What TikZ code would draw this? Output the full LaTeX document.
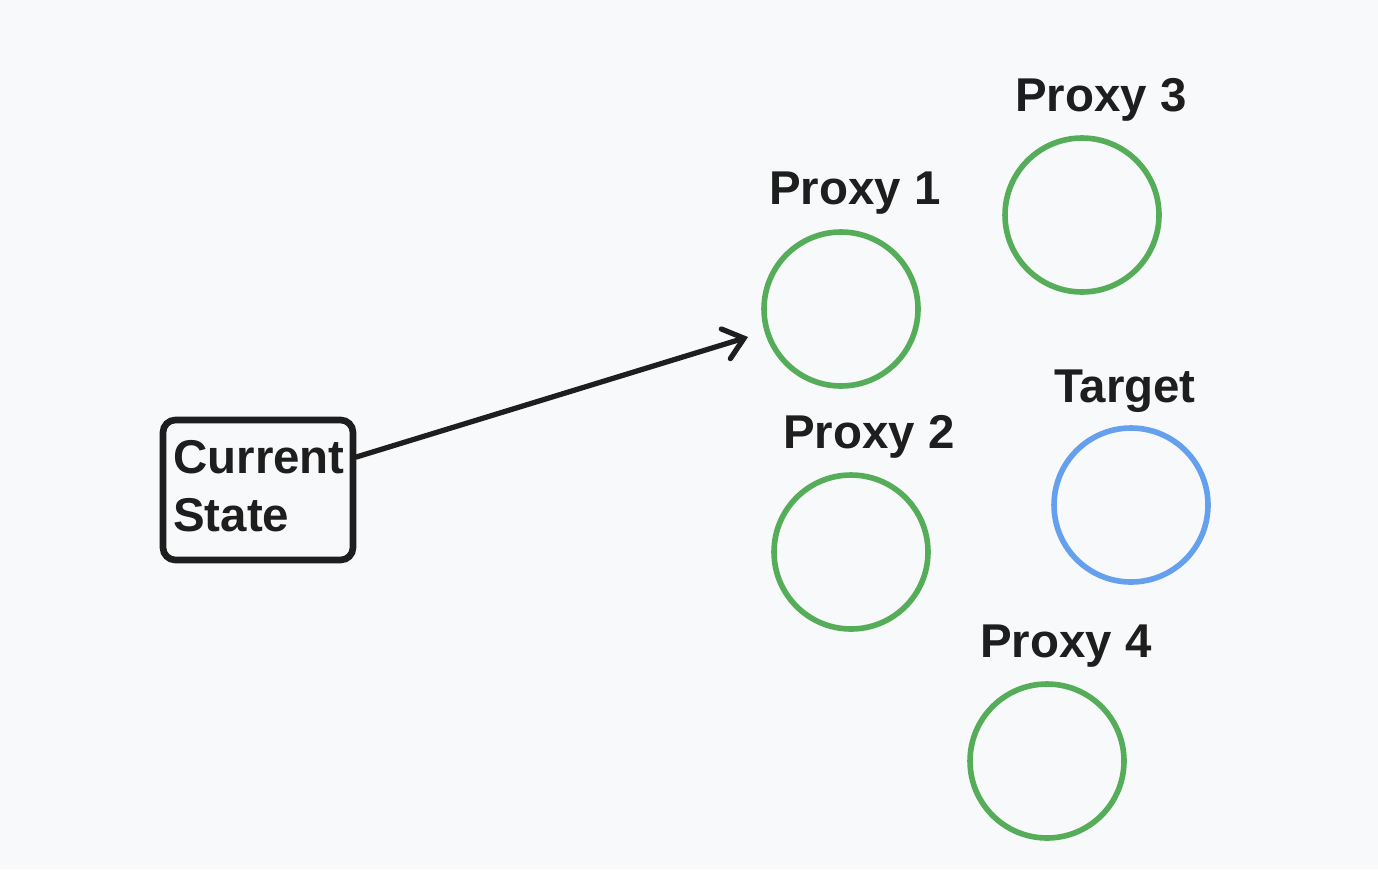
\documentclass[tikz,border=0pt]{standalone}
\usepackage{fontspec}
\setmainfont{Liberation Sans}
\usetikzlibrary{positioning,arrows.meta}
\definecolor{paper}{HTML}{F8F9FA}
\definecolor{ink}{HTML}{1E1E1E}
\definecolor{proxygreen}{HTML}{55AD5A}
\definecolor{targetblue}{HTML}{64A0EE}
\begin{document}
\begin{tikzpicture}[x=0.02cm,y=-0.02cm,
    every node/.style={font=\fontsize{27}{33}\selectfont\bfseries,text=ink},
    ball/.style={draw,circle,line width=3.2pt,minimum size=3.08cm,inner sep=0pt},
    proxy/.style={ball,draw=proxygreen},
    goal/.style={ball,draw=targetblue},
    tag/.style={inner sep=0pt}]
    \fill[paper] (0,0) rectangle (1378,869);
    \useasboundingbox (0,0) rectangle (1378,869);

    \node[draw=ink,line width=3.8pt,rounded corners=7pt,minimum width=3.8cm,
        minimum height=2.8cm,inner sep=0pt] (state) at (258,490) {};
    \node[tag,align=left,anchor=west] (statetext) at (173,486) {Current\\State};

    \node[proxy] (p1) at (841,309) {};
    \node[proxy] (p2) at (851,552) {};
    \node[proxy] (p3) at (1082,215) {};
    \node[proxy] (p4) at (1047,761) {};
    \node[goal] (target) at (1131,505) {};

    \node[tag] (l1) at (855,193) {Proxy 1};
    \node[tag] (l2) at (869,437) {Proxy 2};
    \node[tag] (l3) at (1101,100) {Proxy 3};
    \node[tag] (lt) at (1125,391) {Target};
    \node[tag] (l4) at (1066,646) {Proxy 4};

    \coordinate (tip) at (748,337);
    \draw[-{Straight Barb[length=0.38cm,width=0.62cm,line cap=round]},line width=3pt,ink,line cap=round]
        (state.east |- 0,457) -- (tip);
\end{tikzpicture}
\end{document}
